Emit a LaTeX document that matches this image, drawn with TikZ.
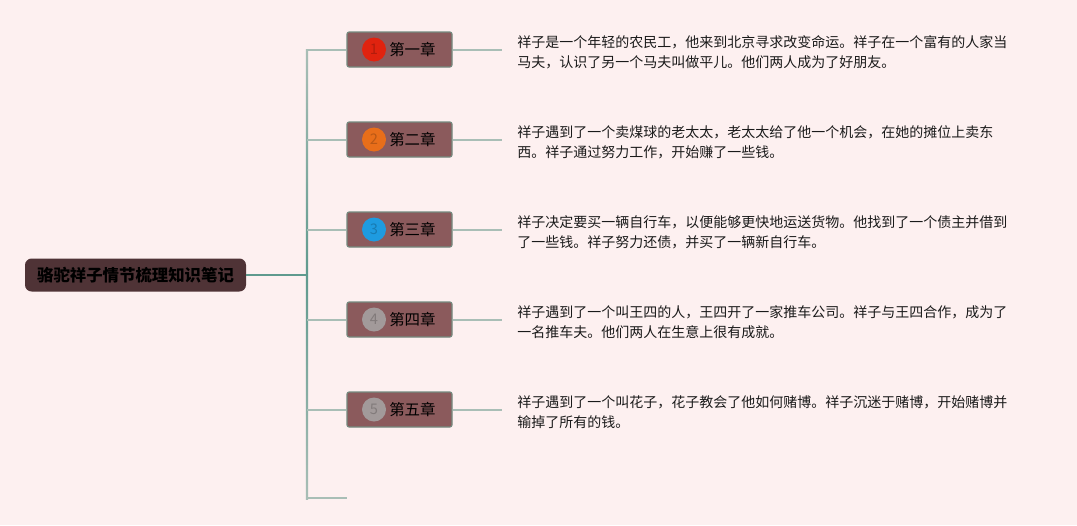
\documentclass[tikz,border=0pt]{standalone}
\usepackage{fontspec}
\setmainfont{Noto Sans CJK SC}
\usetikzlibrary{positioning}
\definecolor{bgc}{HTML}{FDF0F0}
\definecolor{rootc}{HTML}{4F3336}
\definecolor{boxc}{HTML}{8B5A5C}
\definecolor{boxline}{HTML}{748A7F}
\definecolor{spinec}{HTML}{5F9A8E}
\definecolor{branchc}{HTML}{A9BEB6}
\definecolor{txtc}{HTML}{1A1A1A}
\definecolor{cr}{HTML}{E0230F}
\definecolor{co}{HTML}{E86E1A}
\definecolor{cb}{HTML}{1E9BE0}
\definecolor{cg}{HTML}{A29A9A}
\tikzset{
  rootbox/.style={draw=none, fill=rootc, rounded corners=5pt, minimum width=221*0.75pt, minimum height=33*0.75pt, inner sep=0pt, font=\fontsize{12.3}{14}\selectfont\bfseries, text=black},
  chapbox/.style={draw=boxline, line width=0.8pt, fill=boxc, rounded corners=1.5pt, minimum width=105*0.75pt, minimum height=35*0.75pt, inner sep=0pt},
  chaptitle/.style={anchor=west, inner sep=0pt, font=\fontsize{11.6}{13}\selectfont, text=black},
  numdot/.style={circle, minimum size=24*0.75pt, inner sep=0pt, font=\fontsize{11}{12}\selectfont},
  desc/.style={anchor=west, inner sep=0pt, align=left, font=\fontsize{10.5}{15}\selectfont, text=txtc},
  branch/.style={draw=branchc, line width=1.5pt},
  trunk/.style={draw=spinec, line width=1.6pt}
}
\begin{document}
\begin{tikzpicture}[x=0.75pt,y=-0.75pt]
\useasboundingbox (0,0) rectangle (1077,525);
\fill[bgc] (0,0) rectangle (1077,525);
% spine (shaded)
\shade[top color=branchc, bottom color=branchc, middle color=spinec] (305.8,49) rectangle (308.2,499);
% root
\node[rootbox] (root) at (135.5,275) {骆驼祥子情节梳理知识笔记};
\coordinate (j) at (307,275);
\draw[trunk] (root.east) -- (j);
% chapters
\foreach \i/\y/\cc/\t in {1/49.5/cr/第一章, 2/139.5/co/第二章, 3/229.5/cb/第三章, 4/319.5/cg/第四章, 5/409.5/cg/第五章}{
  \coordinate (s\i) at (307,\y);
  \node[chapbox] (c\i) at (399.5,\y) {};
  \draw[branch] (s\i) -- (c\i.west);
  \node[numdot, fill=\cc, text=\cc!80!black] (n\i) at (374,\y) {\i};
  \node[chaptitle] (h\i) at (389,\y) {\t};
  \coordinate (e\i) at (502,\y);
  \draw[branch] (c\i.east) -- (e\i);
}
\coordinate (s6) at (307,498);
\coordinate (e6) at (347,498);
\draw[branch] (s6) -- (e6);
% descriptions
\node[desc] (t1) at (517,52) {祥子是一个年轻的农民工，他来到北京寻求改变命运。祥子在一个富有的人家当\\马夫，认识了另一个马夫叫做平儿。他们两人成为了好朋友。};
\node[desc] (t2) at (517,142) {祥子遇到了一个卖煤球的老太太，老太太给了他一个机会，在她的摊位上卖东\\西。祥子通过努力工作，开始赚了一些钱。};
\node[desc] (t3) at (517,232) {祥子决定要买一辆自行车，以便能够更快地运送货物。他找到了一个债主并借到\\了一些钱。祥子努力还债，并买了一辆新自行车。};
\node[desc] (t4) at (517,322) {祥子遇到了一个叫王四的人，王四开了一家推车公司。祥子与王四合作，成为了\\一名推车夫。他们两人在生意上很有成就。};
\node[desc] (t5) at (517,412) {祥子遇到了一个叫花子，花子教会了他如何赌博。祥子沉迷于赌博，开始赌博并\\输掉了所有的钱。};
\end{tikzpicture}
\end{document}
